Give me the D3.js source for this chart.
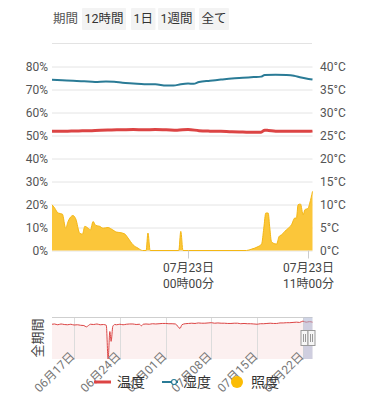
<!DOCTYPE html>
<html><head><meta charset="utf-8">
<script src="https://cdn.jsdelivr.net/npm/d3@7"></script>
<style>
body{margin:0;background:#fff;}
svg{display:block;font-family:Roboto,'Noto Sans CJK JP',sans-serif;}
</style>
</head><body><svg id="c" width="370" height="400"></svg>
<script>
// ---------- data ----------
const periodLabel = "期間";
const periodButtons = ["12時間", "1日", "1週間", "全て"];
const humidityTicks = [0, 10, 20, 30, 40, 50, 60, 70, 80];
const tempTicks = [0, 5, 10, 15, 20, 25, 30, 35, 40];
const mainDomain = ["07-22 11:34", "07-23 11:22"];
const xTickTimes = ["07-23 00:00", "07-23 11:00"];

const tempTimes = ["07-22 11:34","07-22 12:00","07-22 13:00","07-22 14:00","07-22 15:00","07-22 16:00","07-22 17:00","07-22 18:00","07-22 19:00","07-22 20:00","07-22 21:00","07-22 22:00","07-22 23:00","07-23 00:00","07-23 01:00","07-23 02:00","07-23 03:00","07-23 04:00","07-23 05:00","07-23 06:00","07-23 06:40","07-23 07:00","07-23 07:20","07-23 08:00","07-23 09:00","07-23 10:00","07-23 11:00","07-23 11:22"];
const tempValues = [25.9,25.92,25.95,26.0,26.05,26.15,26.2,26.25,26.3,26.25,26.3,26.25,26.15,26.3,26.05,25.95,25.9,25.8,25.75,25.7,25.72,26.15,26.1,25.95,25.92,25.95,25.9,25.95];

const humTimes = ["07-22 11:34","07-22 12:30","07-22 13:30","07-22 14:30","07-22 15:30","07-22 16:30","07-22 17:15","07-22 18:00","07-22 19:00","07-22 20:00","07-22 21:00","07-22 22:00","07-22 22:40","07-22 23:20","07-23 00:00","07-23 00:30","07-23 01:00","07-23 02:00","07-23 03:00","07-23 04:00","07-23 05:00","07-23 06:00","07-23 06:40","07-23 07:00","07-23 08:00","07-23 09:00","07-23 09:40","07-23 10:20","07-23 11:00","07-23 11:22"];
const humValues = [74.2,74.0,73.8,73.6,73.3,73.5,73.4,72.9,72.6,72.3,72.3,71.7,71.7,72.3,72.6,72.5,73.3,73.8,74.3,74.8,75.1,75.4,75.6,76.3,76.4,76.3,76.0,75.2,74.6,74.3];

// illuminance (lux)
const luxTimes = ["07-22 11:34","07-22 11:49","07-22 12:07","07-22 12:31","07-22 12:49","07-22 13:02","07-22 13:29","07-22 13:44","07-22 14:06","07-22 14:21","07-22 14:34","07-22 14:52","07-22 15:05","07-22 15:19","07-22 15:34","07-22 15:56","07-22 16:14","07-22 16:41","07-22 17:00","07-22 17:28","07-22 17:46","07-22 18:13","07-22 18:31","07-22 18:58","07-22 19:26","07-22 19:50","07-22 20:10","07-22 20:20","07-22 20:32","07-22 23:09","07-22 23:20","07-22 23:32","07-23 05:20","07-23 05:48","07-23 06:24","07-23 06:43","07-23 06:55","07-23 07:06","07-23 07:19","07-23 07:28","07-23 07:37","07-23 07:56","07-23 08:05","07-23 08:19","07-23 08:32","07-23 08:59","07-23 09:27","07-23 09:45","07-23 09:54","07-23 10:03","07-23 10:16","07-23 10:31","07-23 10:40","07-23 10:58","07-23 11:07","07-23 11:22"];
const luxValues = [199,184,163,158,97,126,152,138,75,71,105,97,90,126,109,105,97,100,93,80,78,72,54,25,10,0,0,76,0,0,83,0,0,6,17,28,97,163,163,97,39,29,28,61,68,90,112,141,141,199,202,155,177,184,206,257];

// navigator (all period temperature)
const navDomain = ["06-13 15:00", "07-23 11:22"];
const navTickTimes = ["06-17 00:00","06-24 00:00","07-01 00:00","07-08 00:00","07-15 00:00","07-22 00:00"];
const navTimes = ["06-13 15:00","06-14 00:00","06-14 12:00","06-15 00:00","06-15 12:00","06-16 00:00","06-16 12:00","06-17 00:00","06-17 12:00","06-18 00:00","06-18 12:00","06-18 21:00","06-19 06:00","06-19 12:00","06-20 00:00","06-20 12:00","06-21 00:00","06-21 12:00","06-21 22:20","06-22 05:00","06-22 11:20","06-22 16:00","06-22 22:20","06-23 05:30","06-23 12:00","06-24 00:00","06-24 12:00","06-25 00:00","06-25 12:00","06-26 00:00","06-26 12:00","06-27 00:00","06-27 07:00","06-27 14:00","06-28 00:00","06-28 12:00","06-29 00:00","06-29 12:00","06-30 00:00","06-30 12:00","07-01 00:00","07-01 12:00","07-02 00:00","07-02 12:00","07-03 05:00","07-03 12:00","07-04 00:00","07-04 12:00","07-05 00:00","07-05 12:00","07-06 00:00","07-06 12:00","07-07 00:00","07-07 12:00","07-08 00:00","07-08 12:00","07-09 00:00","07-09 12:00","07-10 00:00","07-10 12:00","07-11 00:00","07-11 12:00","07-12 00:00","07-12 12:00","07-13 00:00","07-13 12:00","07-14 00:00","07-14 12:00","07-15 00:00","07-15 12:00","07-16 00:00","07-16 12:00","07-17 00:00","07-17 12:00","07-18 00:00","07-18 12:00","07-19 00:00","07-19 12:00","07-20 00:00","07-20 12:00","07-21 00:00","07-21 12:00","07-22 00:00","07-22 12:00","07-23 00:00","07-23 11:22"];
const navValues = [25.7,25.75,25.6,25.75,25.65,25.6,25.7,25.55,25.6,25.5,25.45,25.2,25.5,25.7,25.65,25.75,25.6,25.65,25.5,19.0,24.3,22.4,25.3,25.65,25.6,25.7,25.6,25.7,25.75,25.75,25.65,25.7,25.4,25.7,25.75,25.7,25.8,25.75,25.8,25.85,25.85,25.8,25.8,25.75,24.9,25.6,25.8,25.85,25.9,25.85,25.95,25.9,25.9,25.95,26.0,25.9,25.95,25.9,25.9,25.85,25.85,25.9,25.9,25.8,25.85,25.8,25.8,25.75,25.7,25.8,25.8,25.85,25.9,25.85,25.85,25.95,25.95,26.0,26.0,26.05,26.1,26.05,26.3,26.1,26.2,26.1];

const legendItems = ["温度", "湿度", "照度"];

// ---------- drawing ----------
const parse = d3.timeParse("%m-%d %H:%M");
const svg = d3.select("#c");
const C_TEMP = "#dc4444", C_HUM = "#2a7b96", C_LUX = "#fbc63a", C_LUX_S = "#f4b714";

// top period bar
svg.append("text").attr("x", 53).attr("y", 23).attr("font-size", 12.5).attr("fill", "#555").text(periodLabel);
const btnX = [82, 131, 158, 199];
periodButtons.forEach((b, i) => {
  const g = svg.append("g");
  const t = g.append("text").attr("x", btnX[i] + 2.5).attr("y", 23).attr("font-size", 12.5).attr("fill", "#333").text(b);
  const w = t.node().getComputedTextLength();
  g.insert("rect", "text").attr("x", btnX[i]).attr("y", 8).attr("width", w + 5).attr("height", 22).attr("fill", "#f3f3f3").attr("rx", 1);
});
svg.append("line").attr("x1", 52).attr("x2", 312).attr("y1", 43.5).attr("y2", 43.5).attr("stroke", "#e3e3e3");

// main chart scales
const L = 52, R = 312.5, T = 66.5, B = 250.5;
const x = d3.scaleTime().domain(mainDomain.map(parse)).range([L, R]);
const yHum = d3.scaleLinear().domain([0, 80]).range([B, T]);
const yTemp = d3.scaleLinear().domain([0, 40]).range([B, T]);
const yLux = d3.scaleLinear().domain([0, 800]).range([B, T]);

// gridlines + left axis
const gl = svg.append("g").attr("transform", `translate(${L},0)`)
  .call(d3.axisLeft(yHum).tickValues(humidityTicks).tickSize(-(R - L)).tickFormat(d => d + "%"));
gl.select(".domain").remove();
gl.selectAll(".tick line").attr("stroke", "#e4e4e4");
gl.selectAll(".tick text").attr("x", -4).attr("font-size", 12).attr("fill", "#555").attr("font-family", "Roboto,sans-serif");

const gr = svg.append("g").attr("transform", `translate(${R},0)`)
  .call(d3.axisRight(yTemp).tickValues(tempTicks).tickSize(0).tickFormat(d => d + "°C"));
gr.select(".domain").remove();
gr.selectAll(".tick text").attr("x", 7.5).attr("font-size", 12).attr("fill", "#555").attr("font-family", "Roboto,sans-serif");

// illuminance area
const luxData = luxTimes.map((t, i) => ({ t: parse(t), v: luxValues[i] }));
svg.append("path").datum(luxData)
  .attr("d", d3.area().x(d => x(d.t)).y0(B).y1(d => yLux(d.v)).curve(d3.curveMonotoneX))
  .attr("fill", C_LUX);
svg.append("path").datum(luxData)
  .attr("d", d3.line().x(d => x(d.t)).y(d => yLux(d.v)).curve(d3.curveMonotoneX))
  .attr("fill", "none").attr("stroke", C_LUX_S).attr("stroke-width", 1);

// temperature line
const tempData = tempTimes.map((t, i) => ({ t: parse(t), v: tempValues[i] }));
svg.append("path").datum(tempData)
  .attr("d", d3.line().x(d => x(d.t)).y(d => yTemp(d.v)).curve(d3.curveMonotoneX))
  .attr("fill", "none").attr("stroke", C_TEMP).attr("stroke-width", 3);

// humidity line
const humData = humTimes.map((t, i) => ({ t: parse(t), v: humValues[i] }));
svg.append("path").datum(humData)
  .attr("d", d3.line().x(d => x(d.t)).y(d => yHum(d.v)).curve(d3.curveMonotoneX))
  .attr("fill", "none").attr("stroke", C_HUM).attr("stroke-width", 2);

// x axis
const fmtD = d3.timeFormat("%m月%d日"), fmtT = d3.timeFormat("%H時%M分");
xTickTimes.map(parse).forEach(t => {
  const xx = Math.round(x(t)) + 0.5;
  svg.append("line").attr("x1", xx).attr("x2", xx).attr("y1", B).attr("y2", B + 8).attr("stroke", "#ccc");
  svg.append("text").attr("x", xx).attr("y", 272).attr("text-anchor", "middle").attr("font-size", 12).attr("fill", "#444").text(fmtD(t));
  svg.append("text").attr("x", xx).attr("y", 288).attr("text-anchor", "middle").attr("font-size", 12).attr("fill", "#444").text(fmtT(t));
});

// navigator
const NT = 317.5, NB = 359;
const nx = d3.scaleTime().domain(navDomain.map(parse)).range([L, R]);
const ny = d3.scaleLinear().domain([19, 27]).range([NB, NT]);
const navData = navTimes.map((t, i) => ({ t: parse(t), v: navValues[i] }));
svg.append("path").datum(navData)
  .attr("d", d3.area().x(d => nx(d.t)).y0(NB).y1(d => ny(d.v)).curve(d3.curveMonotoneX))
  .attr("fill", "#fcf0f0");
navTickTimes.map(parse).forEach(t => {
  const xx = Math.round(nx(t)) + 0.5;
  svg.append("line").attr("x1", xx).attr("x2", xx).attr("y1", NT).attr("y2", NB).attr("stroke", "#dcdcdc");
});
svg.append("line").attr("x1", L).attr("x2", R).attr("y1", NT).attr("y2", NT).attr("stroke", "#cfcfcf");
svg.append("path").datum(navData)
  .attr("d", d3.line().x(d => nx(d.t)).y(d => ny(d.v)).curve(d3.curveMonotoneX))
  .attr("fill", "none").attr("stroke", C_TEMP).attr("stroke-width", 1);
navTickTimes.map(parse).forEach(t => {
  const xx = Math.round(nx(t)) + 0.5;
  svg.append("text").attr("transform", `translate(${xx + 1},${NB - 2}) rotate(-45)`)
    .attr("text-anchor", "end").attr("font-size", 12).attr("fill", "#777").text(fmtD(t));
});

// selection window
const s0 = nx(parse(mainDomain[0])), s1 = nx(parse(mainDomain[1]));
const selX0 = Math.min(s0, s1 - 9);
svg.append("rect").attr("x", selX0).attr("y", NT).attr("width", s1 - selX0).attr("height", NB - NT)
  .attr("fill", "#aab3d2").attr("opacity", 0.55);
[s1 - 11.5, s1 - 4.5].forEach(hx => {
  svg.append("rect").attr("x", hx).attr("y", 330.5).attr("width", 7).attr("height", 15)
    .attr("fill", "#f6f6f6").attr("stroke", "#9a9a9a");
  [2.5, 4.5].forEach(o => svg.append("line").attr("x1", hx + o).attr("x2", hx + o)
    .attr("y1", 334).attr("y2", 342).attr("stroke", "#9a9a9a"));
});

// vertical label
svg.append("text").attr("transform", "translate(42,338) rotate(-90)").attr("text-anchor", "middle")
  .attr("font-size", 13).attr("fill", "#444").text("全期間");

// legend
const LY = 382;
svg.append("line").attr("x1", 94).attr("x2", 111).attr("y1", LY).attr("y2", LY).attr("stroke", C_TEMP).attr("stroke-width", 3);
svg.append("text").attr("x", 117).attr("y", LY + 5).attr("font-size", 14).attr("fill", "#333").text(legendItems[0]);
svg.append("line").attr("x1", 162).attr("x2", 178).attr("y1", LY).attr("y2", LY).attr("stroke", C_HUM).attr("stroke-width", 2);
svg.append("circle").attr("cx", 174).attr("cy", LY).attr("r", 2.5).attr("fill", "#fff").attr("stroke", C_HUM).attr("stroke-width", 1.2);
svg.append("text").attr("x", 183).attr("y", LY + 5).attr("font-size", 14).attr("fill", "#333").text(legendItems[1]);
svg.append("circle").attr("cx", 237).attr("cy", LY).attr("r", 6).attr("fill", "#fbbc05");
svg.append("text").attr("x", 251).attr("y", LY + 5).attr("font-size", 14).attr("fill", "#333").text(legendItems[2]);
</script>
</body></html>
